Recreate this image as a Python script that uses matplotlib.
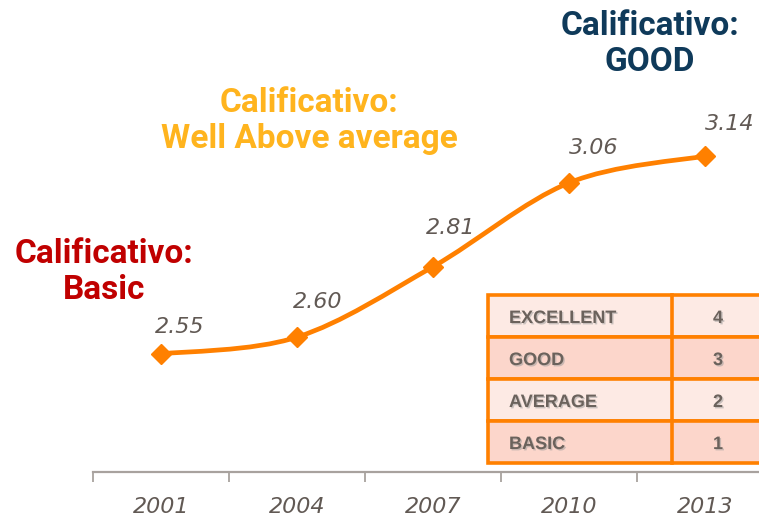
import numpy as np
import matplotlib
matplotlib.use("Agg")
import matplotlib.pyplot as plt
from matplotlib.path import Path
from matplotlib.patches import PathPatch, Rectangle
import matplotlib.patheffects as pe

years = ["2001", "2004", "2007", "2010", "2013"]
scores = [2.55, 2.60, 2.81, 3.06, 3.14]
label_dx = [0.14, 0.15, 0.13, 0.18, 0.18]
label_dy = [0.08, 0.105, 0.115, 0.105, 0.095]

grades = ["EXCELLENT", "GOOD", "AVERAGE", "BASIC"]
grade_values = ["4", "3", "2", "1"]

notes = ["Calificativo:\nBasic", "Calificativo:\nWell Above average", "Calificativo:\nGOOD"]
note_colors = ["#C00000", "#FFB41E", "#0F3A5A"]
note_pos = [(-0.42, 2.794), (1.088, 3.244), (3.596, 3.474)]

orange = "#FF8000"
grey = "#615954"

fig = plt.figure(figsize=(7.59, 5.17), dpi=100)
ax = fig.add_axes([93 / 759, 45 / 517, 666 / 759, 472 / 517])
ax.set_xlim(-0.5, 4.397)
ax.set_ylim(2.198, 3.605)

# smooth line through the points (Catmull-Rom as bezier segments)
pts = np.column_stack([np.arange(len(scores)), scores])
n = len(pts)
verts = [pts[0]]
codes = [Path.MOVETO]
for i in range(n - 1):
    p0 = pts[max(i - 1, 0)]
    p1 = pts[i]
    p2 = pts[i + 1]
    p3 = pts[min(i + 2, n - 1)]
    verts += [p1 + (p2 - p0) / 6, p2 - (p3 - p1) / 6, p2]
    codes += [Path.CURVE4] * 3
ax.add_patch(PathPatch(Path(verts, codes), fill=False, edgecolor=orange, lw=3.4,
                       capstyle="round", zorder=2))
ax.plot(pts[:, 0], pts[:, 1], ls="none", marker="D", ms=10, color=orange, zorder=3)

num_font = ["DejaVu Sans"]
for i, v in enumerate(scores):
    ax.text(i + label_dx[i], v + label_dy[i], f"{v:.2f}", fontsize=16, style="italic",
            family=num_font, color=grey, ha="center", va="center")

for txt, c, (x, y) in zip(notes, note_colors, note_pos):
    ax.text(x, y, txt, fontsize=24, fontweight="bold", family=["Roboto", "DejaVu Sans"],
            color=c, ha="center", va="center", linespacing=1.18)

for s in ["top", "right", "left"]:
    ax.spines[s].set_visible(False)
ax.spines["bottom"].set_color("#a8a29e")
ax.spines["bottom"].set_linewidth(1.6)
ax.set_yticks([])
ax.set_xticks(np.arange(-0.5, 4.5, 1.0))
ax.set_xticklabels([])
ax.tick_params(axis="x", which="major", length=7, width=1.3, color="#a8a29e")
ax.set_xticks(np.arange(len(years)), minor=True)
ax.set_xticklabels(years, minor=True, fontsize=16, style="italic", family=num_font, color=grey)
ax.tick_params(axis="x", which="minor", length=0, pad=18)

# rating table
tab = fig.add_axes([488 / 759, 54 / 517, 276 / 759, 168 / 517])
tab.set_xlim(0, 276)
tab.set_ylim(len(grades), 0)
tab.axis("off")
row_colors = ["#FDEAE4", "#FCD6CB"]
shadow = [pe.withSimplePatchShadow(offset=(1, -1), shadow_rgbFace="#999999", alpha=0.5)]
for i, (g, gv) in enumerate(zip(grades, grade_values)):
    tab.add_patch(Rectangle((0, i), 276, 1, facecolor=row_colors[i % 2],
                            edgecolor=orange, lw=2.6, clip_on=False))
    tab.text(21, i + 0.56, g, fontsize=13, fontweight="bold", family="Liberation Sans",
             color="#6b625c", ha="left", va="center", path_effects=shadow)
    tab.text(230, i + 0.56, gv, fontsize=13, fontweight="bold", family="Liberation Sans",
             color="#6b625c", ha="center", va="center", path_effects=shadow)
tab.plot([184, 184], [0, len(grades)], color=orange, lw=2.6, clip_on=False)

fig.savefig("out.png", dpi=100)
